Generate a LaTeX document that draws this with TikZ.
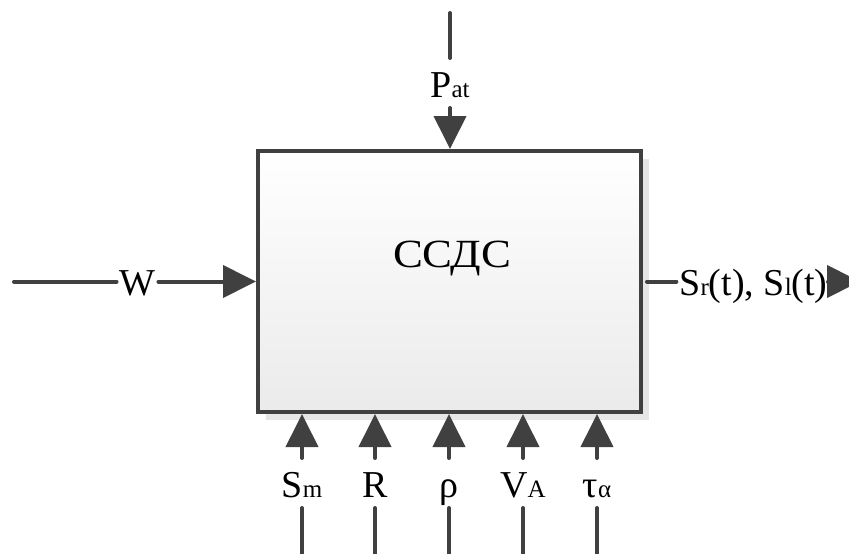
\documentclass[tikz,border=0pt]{standalone}
\usepackage{fontspec}
\setmainfont{Liberation Serif}
\newfontfamily\labelserif{Liberation Serif}
\newfontfamily\wideserif[FakeStretch=1.12]{Liberation Serif}
\usepackage{tikz}
\usetikzlibrary{arrows.meta, shadows}
\definecolor{lineColor}{HTML}{404040}
\definecolor{shadowColor}{HTML}{E6E6E6}
\newcommand{\lo}[1]{{\fontsize{25pt}{25pt}\selectfont #1}}

\begin{document}
\begin{tikzpicture}[x=1pt, y=-1pt, line width=4pt, line cap=round,
    wire/.style={draw=lineColor},
    arr/.style={draw=lineColor, -{Triangle[width=32pt,length=33pt]}},
    sig/.style={font=\labelserif\fontsize{38pt}{38pt}\selectfont, fill=white, inner xsep=1pt,
        inner ysep=9pt, text height=28pt, text depth=0pt}]
    \clip (0,0) rectangle (849,554);
    \node[draw=lineColor, top color=white, bottom color=black!8,
        minimum width=383pt, minimum height=261pt,
        drop shadow={shadow xshift=8pt, shadow yshift=-8pt, fill=shadowColor, opacity=1}]
        (ssds) at (449.5,281.5) {};
    \node[font=\wideserif\fontsize{40pt}{40pt}\selectfont, anchor=base] (title) at (452,267) {ССДС};

    % top input
    \coordinate (patTop) at (450,13);
    \node[sig] (pat) at (450,83) {P\lo{at}};
    \draw[wire] (patTop) -- (pat);
    \draw[arr] (pat) -- (pat |- ssds.north);

    % left input
    \coordinate (wStart) at (14,281.5);
    \node[sig] (w) at (137.5,281.5) {W};
    \draw[wire] (wStart) -- (w);
    \draw[arr] (w) -- (ssds.west);

    % output
    \node[sig] (out) at (753.5,281.5) {S\lo{r}(t), S\lo{l}(t)};
    \coordinate (outEnd) at (860,281.5);
    \draw[wire] ([xshift=4pt]ssds.east) -- (out);
    \draw[arr] (out) -- (outEnd);

    % bottom inputs
    \foreach \x/\name/\txt in {302/sm/S\lo{m}, 375/r/R, 449/rho/ρ, 523/va/V\lo{A}, 597/tau/τ\lo{α}} {
        \coordinate (\name-end) at (\x,560);
        \node[sig] (\name) at (\x,483) {\txt};
        \draw[wire] (\name-end) -- (\name);
        \draw[arr] (\name) -- (\name |- ssds.south);
    }
\end{tikzpicture}
\end{document}
